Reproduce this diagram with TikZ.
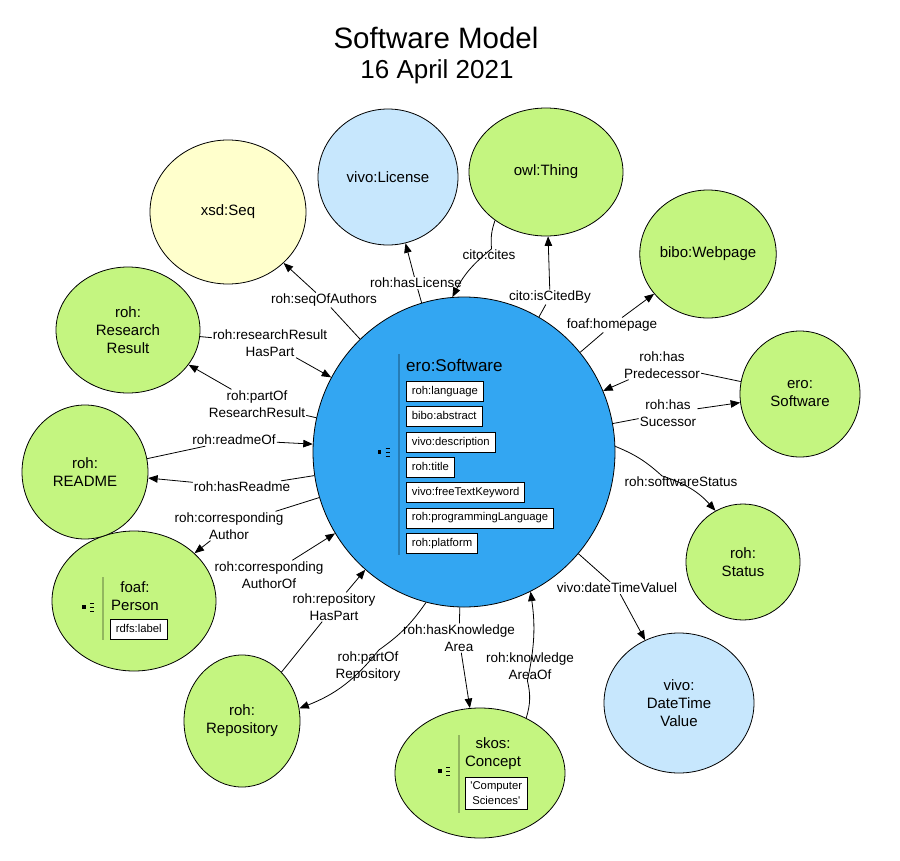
\documentclass[tikz,border=0pt]{standalone}
\usepackage{fontspec}
\setmainfont{Liberation Sans}
\usetikzlibrary{shapes.geometric,arrows.meta,positioning}
\definecolor{classgreen}{RGB}{196,245,128}
\definecolor{classblue}{RGB}{199,231,253}
\definecolor{classyellow}{RGB}{255,255,204}
\definecolor{mainblue}{RGB}{51,166,242}

% small list icon in front of the attribute column
\newcommand{\listicon}[1]{%
  \begin{scope}[shift={#1}]
    \fill (-1.6,-1.6) rectangle (1.6,1.6);
    \foreach \dy in {-4,0,4} \draw[line width=1pt] (6,\dy) -- (10,\dy);
  \end{scope}}

\begin{document}
\begin{tikzpicture}[x=1pt, y=-1pt,
    classnode/.style={ellipse, draw, line width=0.8pt, inner sep=0pt, align=center, font=\fontsize{15}{18}\selectfont},
    proplabel/.style={align=center, inner sep=1pt, font=\fontsize{13.5}{17}\selectfont},
    valuebox/.style={draw, fill=white, line width=0.8pt, anchor=north west, inner xsep=5.5pt, inner ysep=4.5pt,
        font=\fontsize{11.3}{14}\selectfont},
    propbox/.style={valuebox, text height=8.5pt, text depth=2.5pt},
    sepline/.style={line width=1.5pt, draw=black, opacity=0.25},
    rel/.style={line width=0.8pt, -{Triangle[length=9.5pt,width=7.5pt]}}
]
    \useasboundingbox (0,0) rectangle (900,860);

    % Title
    \node[font=\fontsize{29.5}{32}\selectfont] (title) at (436,38) {Software Model};
    \node[font=\fontsize{26}{28}\selectfont] (day) at (437,72) {16 April 2021};

    % Central class
    \node[classnode, fill=mainblue, minimum width=302, minimum height=310] (sw) at (464,452) {};
    \draw[sepline] (399,354) -- (399,555);
    \listicon{(379.5,452)}
    \node[font=\fontsize{17}{20}\selectfont, anchor=base west, inner sep=0pt] (swname) at (406,371) {ero:Software};
    \foreach \prop [count=\i] in {roh:language, bibo:abstract, vivo:description, roh:title,
        vivo:freeTextKeyword, roh:programmingLanguage, roh:platform}
        \node[propbox] (prop\i) at (406,{355.7+25.3*\i}) {\prop};

    % Surrounding classes
    \node[classnode, fill=classyellow, minimum width=156, minimum height=144] (seq) at (228,212) {xsd:Seq};
    \node[classnode, fill=classblue, minimum width=140, minimum height=136] (lic) at (388,177) {vivo:License};
    \node[classnode, fill=classgreen, minimum width=154, minimum height=128] (thing) at (546,172) {owl:Thing};
    \node[classnode, fill=classgreen, minimum width=120, minimum height=128] (web) at (708,254) {bibo:Webpage};
    \node[classnode, fill=classgreen, minimum width=120, minimum height=126] (sw2) at (800,394) {ero:\\Software};
    \node[classnode, fill=classgreen, minimum width=114, minimum height=116] (stat) at (743,562) {roh:\\Status};
    \node[classnode, fill=classblue, minimum width=150, minimum height=140] (date) at (679,703) {vivo:\\DateTime\\Value};
    \node[classnode, fill=classgreen, minimum width=170, minimum height=130] (concept) at (480,773) {};
    \node[classnode, fill=classgreen, minimum width=116, minimum height=132] (repo) at (242,721) {roh:\\Repository};
    \node[classnode, fill=classgreen, minimum width=164, minimum height=140] (person) at (134,601) {};
    \node[classnode, fill=classgreen, minimum width=126, minimum height=134] (readme) at (85,472) {roh:\\README};
    \node[classnode, fill=classgreen, minimum width=144, minimum height=126] (rr) at (128,330) {roh:\\Research\\Result};

    % Person content
    \draw[sepline] (103,577) -- (103,640);
    \listicon{(84,607)}
    \node[align=center, inner sep=0pt, font=\fontsize{15}{18}\selectfont] (personname) at (135,596) {foaf:\\Person};
    \node[propbox] (personlabel) at (110,619) {rdfs:label};

    % Concept content
    \draw[sepline] (459,735) -- (459,813);
    \listicon{(440,771)}
    \node[align=center, inner sep=0pt, font=\fontsize{15}{18}\selectfont] (conceptname) at (493,754) {skos:\\Concept};
    \node[valuebox, align=center, inner xsep=5pt, font=\fontsize{11.3}{15}\selectfont]
        (conceptlabel) at (465,777) {\textquotesingle Computer\\Sciences\textquotesingle};

    % Property labels
    \node[proplabel] (lSeq) at (324,300) {roh:seqOfAuthors};
    \node[proplabel] (lLic) at (416,283) {roh:hasLicense};
    \node[proplabel] (lCites) at (489,255) {cito:cites};
    \node[proplabel] (lCited) at (550,297) {cito:isCitedBy};
    \node[proplabel] (lHome) at (612,325) {foaf:homepage};
    \node[proplabel] (lPred) at (662,365) {roh:has\\Predecessor};
    \node[proplabel] (lSuc) at (668,413) {roh:has\\Sucessor};
    \node[proplabel] (lStat) at (681,482) {roh:softwareStatus};
    \node[proplabel] (lDate) at (617,588) {vivo:dateTimeValuel};
    \node[proplabel] (lKnowOf) at (530,666) {roh:knowledge\\AreaOf};
    \node[proplabel] (lKnow) at (459,638) {roh:hasKnowledge\\Area};
    \node[proplabel] (lPartRepo) at (368,666) {roh:partOf\\Repository};
    \node[proplabel] (lRepoPart) at (334,607) {roh:repository\\HasPart};
    \node[proplabel] (lAuthOf) at (269,575) {roh:corresponding\\AuthorOf};
    \node[proplabel] (lAuth) at (229,526) {roh:corresponding\\Author};
    \node[proplabel] (lHasRd) at (242,487) {roh:hasReadme};
    \node[proplabel] (lRdOf) at (234,440) {roh:readmeOf};
    \node[proplabel] (lPartRR) at (257,404) {roh:partOf\\ResearchResult};
    \node[proplabel] (lRRPart) at (270,343) {roh:researchResult\\HasPart};

    % Relations
    \draw[rel] (sw) -- (lSeq) -- (seq);
    \draw[rel] (sw) -- (lLic) -- (lic);
    \draw[rel] (thing) to[bend right=12] (lCites) to[bend right=12] (sw);
    \draw[rel] (sw) -- (lCited) -- (thing);
    \draw[rel] (sw) -- (lHome) -- (web);
    \draw[rel] (sw2) -- (lPred) -- (sw);
    \draw[rel] (sw) -- (lSuc) -- (sw2);
    \draw[rel] (sw) to[bend left=10] (lStat) to[bend left=15] (stat);
    \draw[rel] (sw) -- (lDate) -- (date);
    \draw[rel] (concept) to[bend right=15] (lKnowOf) to[bend right=10] (sw);
    \draw[rel] (sw) -- (lKnow) -- (concept);
    \draw[rel] (sw) to[bend left=10] (lPartRepo) to[bend left=15] (repo);
    \draw[rel] (repo) -- (lRepoPart) -- (sw);
    \draw[rel] (person) -- (lAuthOf) -- (sw);
    \draw[rel] (sw) -- (lAuth) -- (person);
    \draw[rel] (sw) -- (lHasRd) -- (readme);
    \draw[rel] (readme) -- (lRdOf) -- (sw);
    \draw[rel] (sw) -- (lPartRR) -- (rr);
    \draw[rel] (rr) -- (lRRPart) -- (sw);
\end{tikzpicture}
\end{document}
